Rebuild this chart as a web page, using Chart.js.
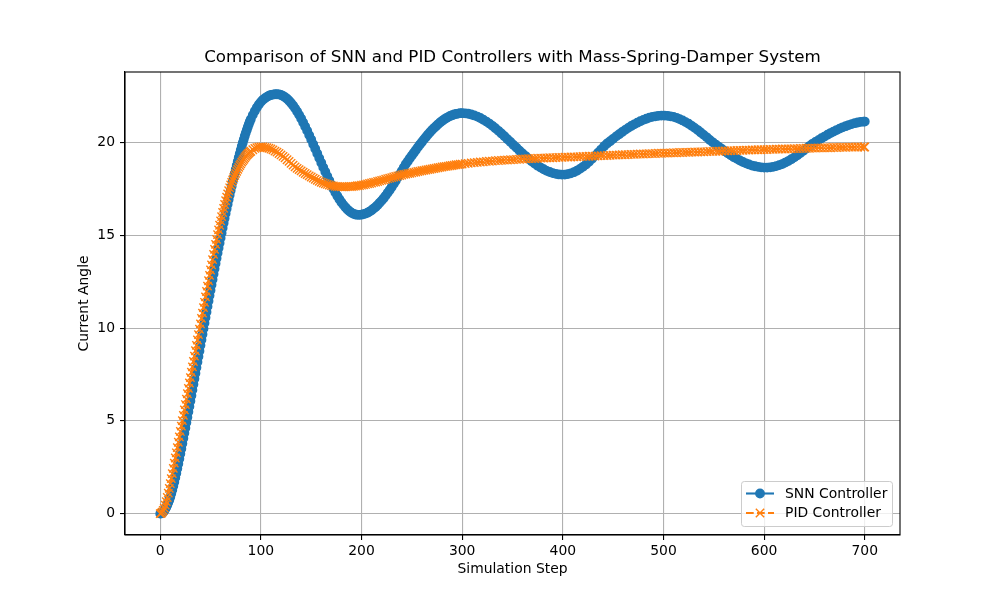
<!DOCTYPE html>
<html>
<head>
<meta charset="utf-8">
<script src="https://cdn.jsdelivr.net/npm/chart.js"></script>
<style>
html,body{margin:0;padding:0;background:#fff;}
canvas{display:block;}
</style>
</head>
<body>
<canvas id="c" width="1000" height="600"></canvas>
<script>
// ---------- data ----------
const titleText = 'Comparison of SNN and PID Controllers with Mass-Spring-Damper System';
const xLabel = 'Simulation Step';
const yLabel = 'Current Angle';
const seriesLabels = ['SNN Controller', 'PID Controller'];
const xTicks = [0, 100, 200, 300, 400, 500, 600, 700];
const yTicks = [0, 5, 10, 15, 20];

const steps = [
  0,1,2,3,4,5,6,7,8,9,
  10,11,12,13,14,15,16,17,18,19,
  20,21,22,23,24,25,26,27,28,29,
  30,31,32,33,34,35,36,37,38,39,
  40,41,42,43,44,45,46,47,48,49,
  50,51,52,53,54,55,56,57,58,59,
  60,61,62,63,64,65,66,67,68,69,
  70,71,72,73,74,75,76,77,78,79,
  80,81,82,83,84,85,86,87,88,89,
  90,92,94,96,98,100,102,104,106,108,
  110,112,114,116,118,120,122,124,126,128,
  130,132,134,136,138,140,142,144,146,148,
  150,152,154,156,158,160,162,164,166,168,
  170,172,174,176,178,180,182,184,186,188,
  190,192,194,196,198,200,202,204,206,208,
  210,212,214,216,218,220,222,224,226,228,
  230,232,234,236,238,240,242,244,246,248,
  250,252,254,256,258,260,262,264,266,268,
  270,272,274,276,278,280,282,284,286,288,
  290,292,294,296,298,300,
  303,306,309,312,315,318,321,324,327,
  330,333,336,339,342,345,348,351,354,357,
  360,363,366,369,372,375,378,381,384,387,
  390,393,396,399,402,405,408,411,414,417,
  420,423,426,429,432,435,438,441,444,447,
  450,453,456,459,462,465,468,471,474,477,
  480,483,486,489,492,495,498,501,504,507,
  510,513,516,519,522,525,528,531,534,537,
  540,543,546,549,552,555,558,561,564,567,
  570,573,576,579,582,585,588,591,594,597,
  600,603,606,609,612,615,618,621,624,627,
  630,633,636,639,642,645,648,651,654,657,
  660,663,666,669,672,675,678,681,684,687,
  690,693,696,699,
  700
];

const snnAngle = [
  0.00,0.01,0.04,0.09,0.16,0.25,0.35,0.47,0.60,0.74,
  0.90,1.08,1.28,1.49,1.71,1.94,2.18,2.43,2.69,2.96,
  3.23,3.50,3.78,4.06,4.34,4.62,4.91,5.20,5.49,5.78,
  6.07,6.37,6.67,6.97,7.27,7.57,7.87,8.17,8.47,8.77,
  9.07,9.37,9.67,9.97,10.27,10.57,10.87,11.17,11.46,11.75,
  12.04,12.33,12.62,12.91,13.20,13.48,13.76,14.04,14.32,14.59,
  14.86,15.13,15.40,15.66,15.92,16.18,16.43,16.68,16.93,17.17,
  17.41,17.65,17.88,18.11,18.33,18.55,18.77,18.98,19.19,19.40,
  19.60,19.80,19.99,20.17,20.35,20.52,20.68,20.84,20.99,21.13,
  21.26,21.49,21.70,21.89,22.05,22.19,22.30,22.39,22.46,22.52,
  22.56,22.58,22.60,22.60,22.59,22.56,22.51,22.44,22.36,22.25,
  22.13,21.99,21.84,21.67,21.49,21.29,21.08,20.86,20.64,20.40,
  20.16,19.91,19.66,19.41,19.16,18.91,18.66,18.42,18.18,17.95,
  17.73,17.51,17.31,17.12,16.94,16.78,16.64,16.51,16.39,16.30,
  16.22,16.16,16.12,16.10,16.10,16.11,16.14,16.17,16.22,16.28,
  16.35,16.44,16.53,16.63,16.75,16.87,17.00,17.14,17.29,17.44,
  17.60,17.77,17.94,18.12,18.29,18.47,18.66,18.84,18.99,19.15,
  19.30,19.45,19.60,19.75,19.89,20.03,20.17,20.30,20.43,20.55,
  20.67,20.78,20.88,20.98,21.08,21.16,21.24,21.31,21.37,21.43,
  21.47,21.51,21.54,21.56,21.58,21.58,
  21.57,21.55,21.51,21.46,21.40,21.32,21.23,21.13,21.02,
  20.90,20.77,20.63,20.49,20.34,20.18,20.03,19.87,19.72,19.56,
  19.41,19.27,19.13,18.99,18.87,18.75,18.65,18.56,18.47,18.41,
  18.35,18.31,18.28,18.27,18.27,18.30,18.34,18.40,18.48,18.58,
  18.69,18.82,18.96,19.12,19.28,19.45,19.62,19.80,19.95,20.07,
  20.20,20.33,20.45,20.57,20.68,20.79,20.89,20.98,21.07,21.15,
  21.22,21.28,21.34,21.38,21.41,21.44,21.45,21.45,21.44,21.41,
  21.38,21.33,21.26,21.19,21.10,21.01,20.90,20.79,20.67,20.54,
  20.41,20.28,20.14,20.01,19.89,19.77,19.65,19.53,19.42,19.31,
  19.21,19.12,19.03,18.95,18.88,18.82,18.76,18.72,18.69,18.66,
  18.65,18.65,18.66,18.69,18.73,18.78,18.84,18.92,19.00,19.10,
  19.20,19.31,19.43,19.56,19.68,19.81,19.93,20.03,20.13,20.23,
  20.32,20.42,20.51,20.59,20.67,20.75,20.82,20.88,20.94,20.99,
  21.04,21.08,21.11,21.13,
  21.13
];

const pidAngle = [
  0.00,0.02,0.08,0.17,0.30,0.46,0.65,0.87,1.11,1.36,
  1.62,1.89,2.16,2.44,2.72,3.00,3.28,3.56,3.85,4.14,
  4.43,4.72,5.01,5.30,5.59,5.88,6.17,6.46,6.75,7.04,
  7.33,7.62,7.91,8.20,8.49,8.78,9.07,9.36,9.65,9.94,
  10.23,10.52,10.81,11.10,11.39,11.68,11.97,12.26,12.55,12.84,
  13.13,13.41,13.69,13.97,14.24,14.51,14.78,15.04,15.29,15.54,
  15.78,16.01,16.23,16.45,16.66,16.86,17.05,17.23,17.40,17.56,
  17.71,17.85,17.98,18.11,18.23,18.34,18.45,18.56,18.66,18.76,
  18.85,18.94,19.02,19.10,19.18,19.25,19.32,19.38,19.43,19.49,
  19.53,19.61,19.68,19.72,19.75,19.76,19.76,19.74,19.72,19.69,
  19.65,19.60,19.54,19.48,19.41,19.33,19.25,19.17,19.07,18.98,
  18.88,18.78,18.69,18.61,18.54,18.47,18.40,18.33,18.27,18.20,
  18.14,18.08,18.02,17.96,17.91,17.86,17.82,17.78,17.74,17.71,
  17.68,17.66,17.64,17.63,17.62,17.61,17.61,17.61,17.62,17.63,
  17.63,17.64,17.65,17.67,17.68,17.70,17.72,17.74,17.77,17.79,
  17.82,17.85,17.87,17.90,17.93,17.96,17.99,18.02,18.05,18.08,
  18.11,18.14,18.17,18.20,18.22,18.25,18.28,18.30,18.32,18.34,
  18.36,18.39,18.41,18.44,18.46,18.48,18.50,18.52,18.54,18.56,
  18.58,18.60,18.62,18.64,18.66,18.68,18.70,18.71,18.73,18.75,
  18.76,18.78,18.80,18.81,18.83,18.84,
  18.86,18.88,18.90,18.92,18.93,18.95,18.96,18.98,18.99,
  19.00,19.02,19.03,19.04,19.05,19.06,19.07,19.08,19.09,19.10,
  19.11,19.12,19.13,19.13,19.14,19.15,19.16,19.16,19.17,19.18,
  19.18,19.19,19.20,19.20,19.21,19.21,19.22,19.23,19.23,19.24,
  19.25,19.25,19.26,19.27,19.27,19.28,19.29,19.29,19.30,19.31,
  19.32,19.32,19.33,19.34,19.34,19.35,19.36,19.36,19.37,19.38,
  19.38,19.39,19.40,19.40,19.41,19.42,19.42,19.43,19.43,19.44,
  19.45,19.45,19.46,19.46,19.47,19.47,19.48,19.49,19.49,19.50,
  19.50,19.51,19.52,19.52,19.53,19.53,19.54,19.55,19.55,19.56,
  19.56,19.57,19.58,19.58,19.59,19.59,19.60,19.60,19.61,19.61,
  19.62,19.62,19.63,19.63,19.64,19.64,19.65,19.65,19.66,19.66,
  19.67,19.67,19.68,19.68,19.69,19.69,19.70,19.70,19.71,19.71,
  19.72,19.72,19.72,19.73,19.73,19.74,19.74,19.74,19.75,19.75,
  19.75,19.76,19.76,19.76,
  19.76
];

// ---------- chart ----------
const BLUE = '#1f77b4', ORANGE = '#ff7f0e';
const FONT = '"DejaVu Sans", "Liberation Sans", sans-serif';
Chart.defaults.font.family = FONT;
Chart.defaults.font.size = 13.9;
Chart.defaults.color = '#000';

const toPoints = arr => steps.map((s, i) => ({x: s, y: arr[i]}));

const framePlugin = {
  id: 'frame',
  afterDraw(chart) {
    const {ctx, chartArea: a} = chart;
    ctx.save();
    ctx.strokeStyle = '#000';
    ctx.lineWidth = 1.1;
    ctx.strokeRect(a.left, a.top, a.right - a.left, a.bottom - a.top);
    // title centred over the plot area
    ctx.fillStyle = '#000';
    ctx.font = '16.7px ' + FONT;
    ctx.textAlign = 'center';
    ctx.textBaseline = 'middle';
    ctx.fillText(titleText, (a.left + a.right) / 2, 58);
    ctx.restore();
  }
};

const legendPlugin = {
  id: 'mplLegend',
  afterDraw(chart) {
    const c = chart.ctx;
    const x0 = 741.5, y0 = 481.5, w = 151, h = 45;
    c.save();
    c.beginPath();
    c.roundRect(x0, y0, w, h, 2.8);
    c.fillStyle = 'rgba(255,255,255,0.8)';
    c.fill();
    c.strokeStyle = '#cccccc';
    c.lineWidth = 1;
    c.stroke();
    c.font = '13.9px ' + FONT;
    c.textBaseline = 'middle';
    c.textAlign = 'left';
    chart.data.datasets.forEach((ds, i) => {
      const cy = 493.5 + i * 19.5;
      c.beginPath();
      c.setLineDash(ds.borderDash || []);
      c.strokeStyle = ds.borderColor;
      c.lineWidth = ds.borderWidth;
      c.moveTo(746, cy);
      c.lineTo(774, cy);
      c.stroke();
      c.setLineDash([]);
      if (ds.pointStyle === 'circle') {
        c.beginPath();
        c.arc(760, cy, ds.pointRadius, 0, Math.PI * 2);
        c.fillStyle = ds.pointBackgroundColor;
        c.fill();
        c.lineWidth = ds.pointBorderWidth;
        c.strokeStyle = ds.pointBorderColor;
        c.stroke();
      } else {
        const d = ds.pointRadius * Math.SQRT1_2;
        c.beginPath();
        c.moveTo(760 - d, cy - d); c.lineTo(760 + d, cy + d);
        c.moveTo(760 - d, cy + d); c.lineTo(760 + d, cy - d);
        c.lineWidth = ds.pointBorderWidth;
        c.strokeStyle = ds.pointBorderColor;
        c.stroke();
      }
      c.fillStyle = '#000';
      c.fillText(ds.label, 785, cy + 0.5);
    });
    c.restore();
  }
};

new Chart(document.getElementById('c'), {
  type: 'line',
  data: {
    datasets: [
      {
        label: seriesLabels[0],
        data: toPoints(snnAngle),
        borderColor: BLUE,
        backgroundColor: BLUE,
        borderWidth: 2.1,
        pointStyle: 'circle',
        pointRadius: 4.2,
        pointBackgroundColor: BLUE,
        pointBorderColor: BLUE,
        pointBorderWidth: 1.4,
        tension: 0,
        fill: false,
        order: 1
      },
      {
        label: seriesLabels[1],
        data: toPoints(pidAngle),
        borderColor: ORANGE,
        backgroundColor: ORANGE,
        borderWidth: 2.1,
        borderDash: [7.7, 3.3],
        pointStyle: 'crossRot',
        pointRadius: 5.9,
        pointBackgroundColor: ORANGE,
        pointBorderColor: ORANGE,
        pointBorderWidth: 1.4,
        tension: 0,
        fill: false,
        order: 0
      }
    ]
  },
  options: {
    responsive: false,
    animation: false,
    devicePixelRatio: 1,
    events: [],
    layout: {padding: {left: 0, right: 100, top: 72, bottom: 0}},
    plugins: {
      legend: {display: false},
      tooltip: {enabled: false},
      title: {display: false}
    },
    scales: {
      x: {
        type: 'linear',
        min: -35,
        max: 735,
        afterBuildTicks: s => { s.ticks = xTicks.map(v => ({value: v})); },
        afterFit: s => { s.height = 65; },
        ticks: {color: '#000', padding: 3, maxRotation: 0, font: {size: 13.9}},
        grid: {color: '#b0b0b0', lineWidth: 1.1, tickColor: '#000', tickLength: 5, tickWidth: 1.1},
        border: {display: true, color: '#000', width: 1.1},
        title: {display: true, text: xLabel, color: '#000', font: {size: 13.9}, padding: {top: 0, bottom: 22.7}}
      },
      y: {
        type: 'linear',
        min: -1.15,
        max: 23.8,
        afterBuildTicks: s => { s.ticks = yTicks.map(v => ({value: v})); },
        afterFit: s => { s.width = 125; },
        ticks: {color: '#000', padding: 5, font: {size: 13.9}},
        grid: {color: '#b0b0b0', lineWidth: 1.1, tickColor: '#000', tickLength: 5, tickWidth: 1.1},
        border: {display: true, color: '#000', width: 1.1},
        title: {display: true, text: yLabel, color: '#000', font: {size: 13.9}, padding: {top: 75.7, bottom: 0}}
      }
    }
  },
  plugins: [framePlugin, legendPlugin]
});
</script>
</body>
</html>
